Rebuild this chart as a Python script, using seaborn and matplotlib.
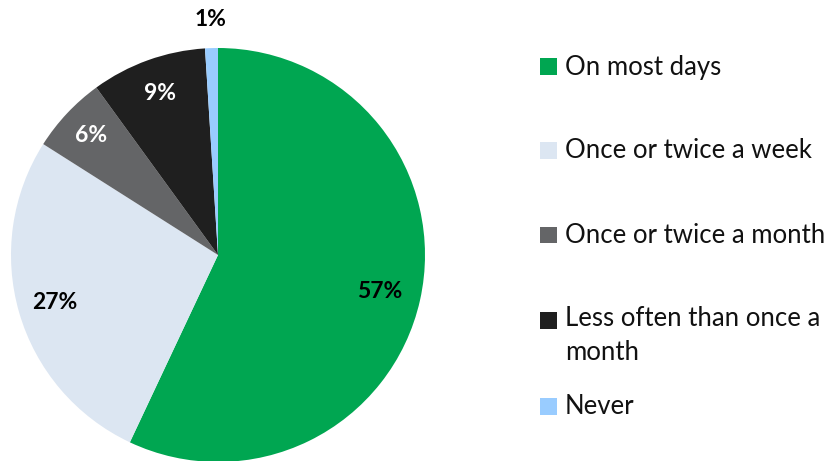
import numpy as np
import matplotlib
matplotlib.use("Agg")
import matplotlib.pyplot as plt
from matplotlib.patches import Rectangle
import seaborn as sns

categories = ["On most days", "Once or twice a week", "Once or twice a month",
              "Less often than once a\nmonth", "Never"]
shares = [57, 27, 6, 9, 1]
colors = ["#00A651", "#DCE6F2", "#646567", "#1F1F1F", "#99CCFF"]
label_colors = ["black", "black", "white", "white", "black"]
label_radius = [0.80, 0.82, 0.84, 0.83, 1.14]

sns.set_theme(style="white")
plt.rcParams["font.family"] = ["Lato", "DejaVu Sans"]

W, H = 839, 461
fig = plt.figure(figsize=(W / 100, H / 100), dpi=100)

# pie occupies a square of 414 px centred at (218, 255)
cx, cy, r = 218, 255, 207
ax = fig.add_axes([(cx - r) / W, (H - cy - r) / H, 2 * r / W, 2 * r / H])
wedges, _ = ax.pie(shares, colors=colors, startangle=90, counterclock=False,
                   radius=1.0, wedgeprops=dict(linewidth=0))
ax.set_xlim(-1, 1)
ax.set_ylim(-1, 1)
ax.set_aspect("equal")
ax.axis("off")

for w, v, c, rr in zip(wedges, shares, label_colors, label_radius):
    mid = np.deg2rad((w.theta1 + w.theta2) / 2)
    ax.text(rr * np.cos(mid), rr * np.sin(mid), f"{v}%", ha="center", va="center",
            fontsize=16.5, fontweight="bold", color=c, clip_on=False)

# legend on the right
row_centers = [67, 151, 235, 320, 406]
sq = 17
for name, col, yc in zip(categories, colors, row_centers):
    fig.patches.append(Rectangle((540 / W, (H - yc - sq / 2) / H), sq / W, sq / H,
                                 transform=fig.transFigure, facecolor=col,
                                 edgecolor="none"))
    if "\n" in name:
        fig.text(565 / W, (H - yc + 14) / H, name, ha="left", va="top",
                 fontsize=18.5, color="#111111", linespacing=1.45)
    else:
        fig.text(565 / W, (H - yc) / H, name, ha="left", va="center",
                 fontsize=18.5, color="#111111")

fig.savefig("out.png", dpi=100)
